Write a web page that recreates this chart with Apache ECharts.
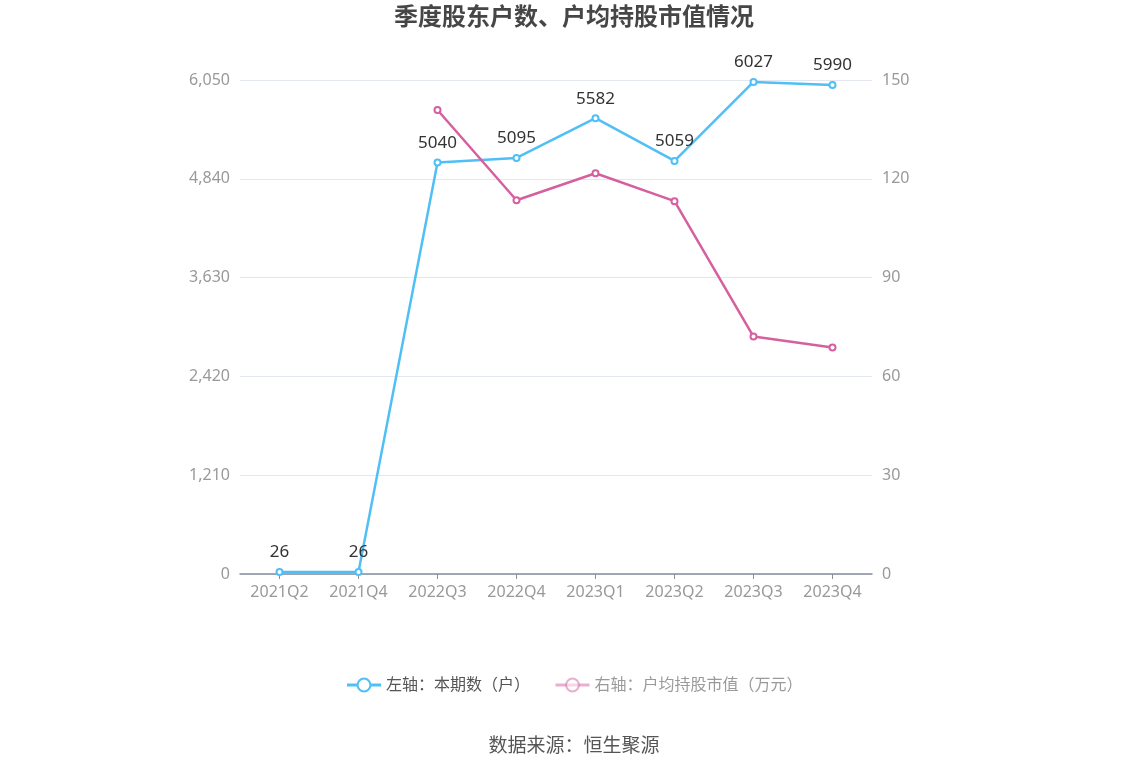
<!DOCTYPE html>
<html><head><meta charset="utf-8">
<script src="https://cdn.jsdelivr.net/npm/echarts@6/dist/echarts.min.js"></script>
<style>html,body{margin:0;padding:0;background:#fff}#c{width:1148px;height:776px}</style>
</head><body><div id="c"></div>
<script>
const categories = ['2021Q2','2021Q4','2022Q3','2022Q4','2023Q1','2023Q2','2023Q3','2023Q4'];
const holders = [26, 26, 5040, 5095, 5582, 5059, 6027, 5990];
const avgValue = [null, null, 140.9, 113.5, 121.7, 113.2, 72.1, 68.8];
const leftTicks = {min: 0, max: 6050, interval: 1210};
const rightTicks = {min: 0, max: 150, interval: 30};

const chart = echarts.init(document.getElementById('c'));
const font = '"Microsoft YaHei","Noto Sans","Noto Sans CJK SC",sans-serif';
chart.setOption({
  backgroundColor: '#fff',
  title: {text: '季度股东户数、户均持股市值情况', left: 'center', top: 1,
    textStyle: {fontSize: 24, fontWeight: 'bold', color: '#464646', fontFamily: font}},
  legend: {bottom: 78, itemWidth: 34, itemHeight: 16, itemGap: 24,
    textStyle: {fontSize: 16, fontFamily: font},
    data: [
      {name: '左轴：本期数（户）', textStyle: {color: '#555'}, lineStyle: {width: 3}, itemStyle: {borderWidth: 2.5}},
      {name: '右轴：户均持股市值（万元）', textStyle: {color: '#9a9a9a'},
       itemStyle: {opacity: 0.5, borderWidth: 2.5}, lineStyle: {opacity: 0.5, width: 3}}
    ]},
  graphic: [{type: 'text', left: 'center', top: 737,
    style: {text: '数据来源：恒生聚源', fontSize: 19, fill: '#555', fontFamily: font}}],
  grid: {left: 240, right: 276, top: 80, bottom: 202},
  xAxis: {type: 'category', data: categories, boundaryGap: true,
    axisLine: {lineStyle: {color: '#888e99', width: 1.5}},
    axisTick: {show: true, alignWithLabel: true, lineStyle: {color: '#888e99'}},
    axisLabel: {color: '#999', fontSize: 16, margin: 10, fontFamily: font}},
  yAxis: [
    {type: 'value', min: leftTicks.min, max: leftTicks.max, interval: leftTicks.interval,
     axisLabel: {color: '#999', fontSize: 16, margin: 10, fontFamily: font},
     axisLine: {show: false}, axisTick: {show: false},
     splitLine: {lineStyle: {color: '#e3e7f1'}}},
    {type: 'value', min: rightTicks.min, max: rightTicks.max, interval: rightTicks.interval,
     axisLabel: {color: '#999', fontSize: 16, margin: 10, fontFamily: font},
     axisLine: {show: false}, axisTick: {show: false},
     splitLine: {show: false}}
  ],
  series: [
    {name: '左轴：本期数（户）', type: 'line', yAxisIndex: 0, data: holders,
     symbol: 'emptyCircle', symbolSize: 6, color: '#4fbff5',
     lineStyle: {width: 2.5, color: '#4fbff5'},
     itemStyle: {color: '#4fbff5', borderWidth: 2},
     label: {show: true, position: 'top', distance: 7, color: '#333', fontSize: 17, fontFamily: font}},
    {name: '右轴：户均持股市值（万元）', type: 'line', yAxisIndex: 1, data: avgValue,
     symbol: 'emptyCircle', symbolSize: 6, color: '#d6609f',
     lineStyle: {width: 2.5, color: '#d6609f'},
     itemStyle: {color: '#d6609f', borderWidth: 2}}
  ]
});
</script></body></html>
